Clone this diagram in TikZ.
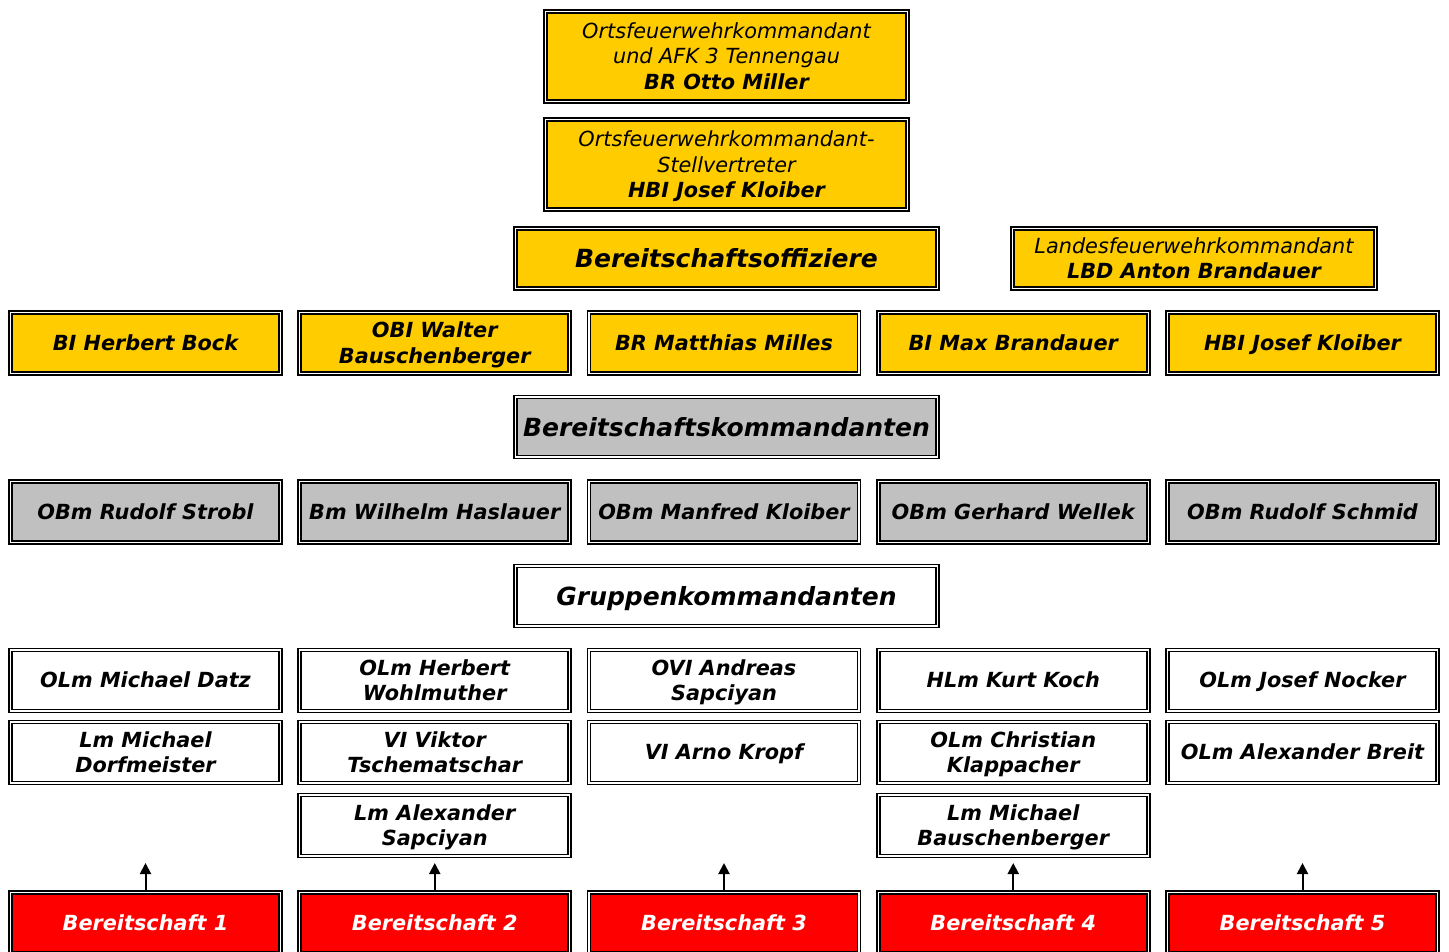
\documentclass[tikz,border=0pt]{standalone}
\usepackage{fontspec}
\setmainfont{DejaVu Sans}
\usetikzlibrary{arrows.meta, positioning}

\definecolor{fireyellow}{HTML}{FFCC00}
\definecolor{firegray}{HTML}{C0C0C0}
\definecolor{firered}{HTML}{FF0000}

\newcommand{\rankname}{\fontsize{20.8}{25.5}\selectfont\bfseries\itshape}
\newcommand{\ranktitle}{\fontsize{20.8}{25.5}\selectfont\mdseries\itshape}

\begin{document}
\begin{tikzpicture}[
    x=1pt, y=-1pt,
    rankbox/.style={rectangle, draw=black, line width=1.7pt, double=white, double distance=1.4pt,
        inner sep=0pt, text depth=1pt, align=center, font=\rankname},
    chiefbox/.style={rankbox, fill=fireyellow, minimum width=362pt, minimum height=90pt},
    headbox/.style={rankbox, minimum width=422pt, minimum height=60pt, font=\fontsize{25}{30}\selectfont\bfseries\itshape},
    personbox/.style={rankbox, minimum width=270pt, minimum height=61pt},
    unitbox/.style={personbox, fill=firered, text=white},
    arrow/.style={-{Triangle[length=11pt, width=11pt]}, line width=2pt}
]
\useasboundingbox (0,0) rectangle (1449,951);

% command staff
\node[chiefbox] (chief) at (726.5,56.5) {\ranktitle Ortsfeuerwehrkommandant\\\ranktitle und AFK 3 Tennengau\\\rankname BR Otto Miller};
\node[chiefbox, below=16.4pt of chief] (deputy) {\ranktitle Ortsfeuerwehrkommandant-\\\ranktitle Stellvertreter\\\rankname HBI Josef Kloiber};
\node[headbox, fill=fireyellow] (officers) at (726.5,258.5) {Bereitschaftsoffiziere};
\node[rankbox, fill=fireyellow, minimum width=363pt, minimum height=60pt] (state) at (1194,258.5) {\ranktitle Landesfeuerwehrkommandant\\\rankname LBD Anton Brandauer};
\node[headbox, fill=firegray] (commanders) at (726.5,427) {Bereitschaftskommandanten};
\node[headbox, fill=white] (groups) at (726.5,596) {Gruppenkommandanten};

% one column per Bereitschaft
\foreach \i/\officer/\commander/\groupa/\groupb in {
    1/BI Herbert Bock/OBm Rudolf Strobl/OLm Michael Datz/Lm Michael\\Dorfmeister,
    2/OBI Walter\\Bauschenberger/Bm Wilhelm Haslauer/OLm Herbert\\Wohlmuther/VI Viktor\\Tschematschar,
    3/BR Matthias Milles/OBm Manfred Kloiber/OVI Andreas\\Sapciyan/VI Arno Kropf,
    4/BI Max Brandauer/OBm Gerhard Wellek/HLm Kurt Koch/OLm Christian\\Klappacher,
    5/HBI Josef Kloiber/OBm Rudolf Schmid/OLm Josef Nocker/OLm Alexander Breit} {
  \pgfmathsetmacro{\colx}{145.5+289.25*(\i-1)}
  \node[personbox, fill=fireyellow] (officer\i) at (\colx,343) {\officer};
  \node[personbox, fill=firegray] (commander\i) at (\colx,512) {\commander};
  \node[personbox, fill=white] (groupa\i) at (\colx,680.5) {\groupa};
  \node[personbox, fill=white] (groupb\i) at (\colx,752.5) {\groupb};
  \node[unitbox] (unit\i) at (\colx,923) {Bereitschaft \i};
  \coordinate (tip\i) at (\colx,863);
  \draw[arrow] (unit\i.north) -- (tip\i);
}
\node[personbox, fill=white] (groupc2) at (434.75,825.5) {Lm Alexander\\Sapciyan};
\node[personbox, fill=white] (groupc4) at (1013.25,825.5) {Lm Michael\\Bauschenberger};
\end{tikzpicture}
\end{document}
